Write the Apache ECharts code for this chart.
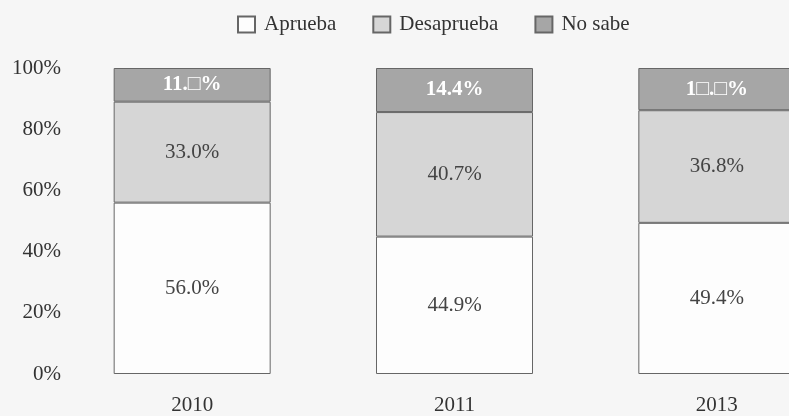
<!DOCTYPE html>
<html>
<head>
<meta charset="utf-8">
<script src="https://cdn.jsdelivr.net/npm/echarts@6/dist/echarts.min.js"></script>
<style>
  html, body { margin: 0; padding: 0; background: #f6f6f6; overflow: hidden; }
  /* the last bar runs past the right edge in the source, so the chart is wider than the window */
  #chart { width: 848px; height: 416px; }
</style>
</head>
<body>
<div id="chart"></div>
<script>
const years = ['2010', '2011', '2013'];
const aprueba = [56.0, 44.9, 49.4];
const desaprueba = [33.0, 40.7, 36.8];
const noSabe = [11.0, 14.4, 13.8];
// the source prints some digits of the top labels as empty boxes
const noSabeLabels = ['11.\u25A1%', '14.4%', '1\u25A1.\u25A1%'];
const yTicks = [0, 20, 40, 60, 80, 100];

const chart = echarts.init(document.getElementById('chart'));
const serif = '"Liberation Serif", "DejaVu Serif", serif';

function bar(name, values, fill, labelColor, labelTexts) {
  return {
    name: name,
    type: 'bar',
    stack: 'total',
    barWidth: 157,
    data: values,
    itemStyle: { color: fill, borderColor: '#666', borderWidth: 1 },
    label: {
      show: true,
      position: 'inside',
      fontFamily: serif,
      fontSize: 21,
      color: labelColor,
      fontWeight: labelTexts ? 'bold' : 'normal',
      formatter: p => labelTexts ? labelTexts[p.dataIndex] : p.value.toFixed(1) + '%'
    }
  };
}

chart.setOption({
  backgroundColor: '#f6f6f6',
  animation: false,
  legend: {
    top: 14,
    left: 237,
    padding: 0,
    itemWidth: 17,
    itemHeight: 16,
    itemGap: 36,
    icon: 'rect',
    textStyle: { fontFamily: serif, fontSize: 21, color: '#333', padding: [0, 0, 0, 4] },
    data: ['Aprueba', 'Desaprueba', 'No sabe']
  },
  grid: { left: 61, right: 0, top: 68, bottom: 41 },
  xAxis: {
    type: 'category',
    data: years,
    axisLine: { show: false },
    axisTick: { show: false },
    axisLabel: { fontFamily: serif, fontSize: 21, color: '#333', margin: 21 }
  },
  yAxis: {
    type: 'value',
    min: yTicks[0],
    max: yTicks[yTicks.length - 1],
    interval: 20,
    splitLine: { show: false },
    axisLine: { show: false },
    axisTick: { show: false },
    axisLabel: {
      fontFamily: serif, fontSize: 21, color: '#333', margin: 0,
      formatter: '{value}%'
    }
  },
  series: [
    bar('Aprueba', aprueba, '#fdfdfd', '#444'),
    bar('Desaprueba', desaprueba, '#d6d6d6', '#444'),
    bar('No sabe', noSabe, '#a6a6a6', '#ffffff', noSabeLabels)
  ]
});
</script>
</body>
</html>
